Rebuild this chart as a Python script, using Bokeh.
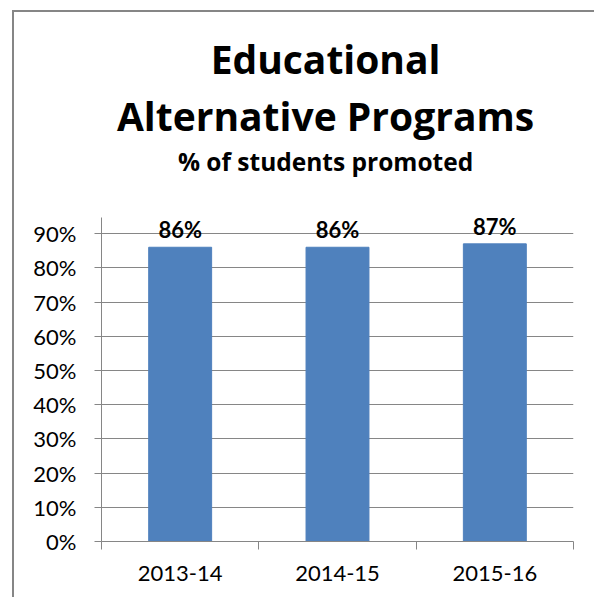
from bokeh.plotting import figure
from bokeh.models import (ColumnDataSource, LabelSet, Label, FixedTicker, Range1d,
                          NumeralTickFormatter)
from bokeh.core.properties import value
from bokeh.embed import file_html
from bokeh.resources import INLINE

years = ["2013-14", "2014-15", "2015-16"]
promoted = [0.86, 0.86, 0.87]
labels = ["86%", "86%", "87%"]
y_ticks = [0.0, 0.1, 0.2, 0.3, 0.4, 0.5, 0.6, 0.7, 0.8, 0.9]
title_lines = ["Educational", "Alternative Programs", "% of students promoted"]

FONT = "Lato"
TFONT = "Open Sans"
GRAY = "#868686"

# axis extent and frame geometry (pixels)
AXIS_MAX = 0.947
FRAME_TOP, AXIS_TOP, FRAME_BOTTOM = 14, 217, 541
scale = (FRAME_BOTTOM - AXIS_TOP) / AXIS_MAX
y_top = (FRAME_BOTTOM - FRAME_TOP) / scale

centers = [i + 0.5 for i in range(len(years))]
src = ColumnDataSource(dict(x=centers, top=promoted, lab=labels, year=years))

p = figure(width=594, height=597, output_backend="svg", toolbar_location=None,
           x_range=Range1d(0, len(years)), y_range=Range1d(0, y_top),
           min_border_left=101, min_border_right=21, min_border_top=FRAME_TOP,
           min_border_bottom=597 - FRAME_BOTTOM)
p.outline_line_color = None
p.background_fill_color = None
p.border_fill_color = None
p.styles = {
    "background": ("linear-gradient(#868686,#868686) 12px 10px / 2px 100% no-repeat, "
                   "linear-gradient(#868686,#868686) 12px 10px / 100% 2px no-repeat, "
                   "white"),
}

p.vbar(x="x", top="top", width=0.4, source=src, color="#4F81BD")

p.add_layout(LabelSet(x="x", y="top", text="lab", source=src, y_offset=9,
                      text_align="center", text_baseline="alphabetic",
                      text_font=value(FONT), text_font_style="bold",
                      text_font_size=value("22px"), text_color="black"))

# grid and axes
p.xgrid.grid_line_color = None
p.ygrid.grid_line_color = GRAY
p.ygrid.grid_line_width = 1
p.ygrid.bounds = (0, AXIS_MAX)
p.yaxis.bounds = (0, AXIS_MAX)
p.yaxis.ticker = FixedTicker(ticks=y_ticks)
p.yaxis.formatter = NumeralTickFormatter(format="0%")
p.yaxis.axis_line_color = GRAY
p.yaxis.major_tick_line_color = GRAY
p.yaxis.major_tick_out = 7
p.yaxis.major_tick_in = 0
p.yaxis.minor_tick_line_color = None
p.yaxis.major_label_standoff = 18
p.yaxis.major_label_text_font = FONT
p.yaxis.major_label_text_font_size = "22px"
p.yaxis.major_label_text_color = "black"

p.xaxis.ticker = FixedTicker(ticks=centers, minor_ticks=list(range(len(years) + 1)))
p.xaxis.major_label_overrides = {c: y for c, y in zip(centers, years)}
p.xaxis.axis_line_color = GRAY
p.xaxis.major_tick_line_color = None
p.xaxis.minor_tick_line_color = GRAY
p.xaxis.minor_tick_out = 8
p.xaxis.minor_tick_in = 0
p.xaxis.major_label_standoff = 16
p.xaxis.major_label_text_font = FONT
p.xaxis.major_label_text_font_size = "22px"
p.xaxis.major_label_text_color = "black"

# titles, anchor positions given in pixels from the top of the page
for txt, base_px, size in zip(title_lines, [58, 115, 161], ["39px", "39px", "24.5px"]):
    p.add_layout(Label(x=1.424, y=(FRAME_BOTTOM - base_px) / scale, text=txt,
                       text_align="center", text_baseline="alphabetic",
                       text_font=TFONT, text_font_style="bold",
                       text_font_size=size, text_color="black"))

open("out.html", "w").write(file_html(p, INLINE))
